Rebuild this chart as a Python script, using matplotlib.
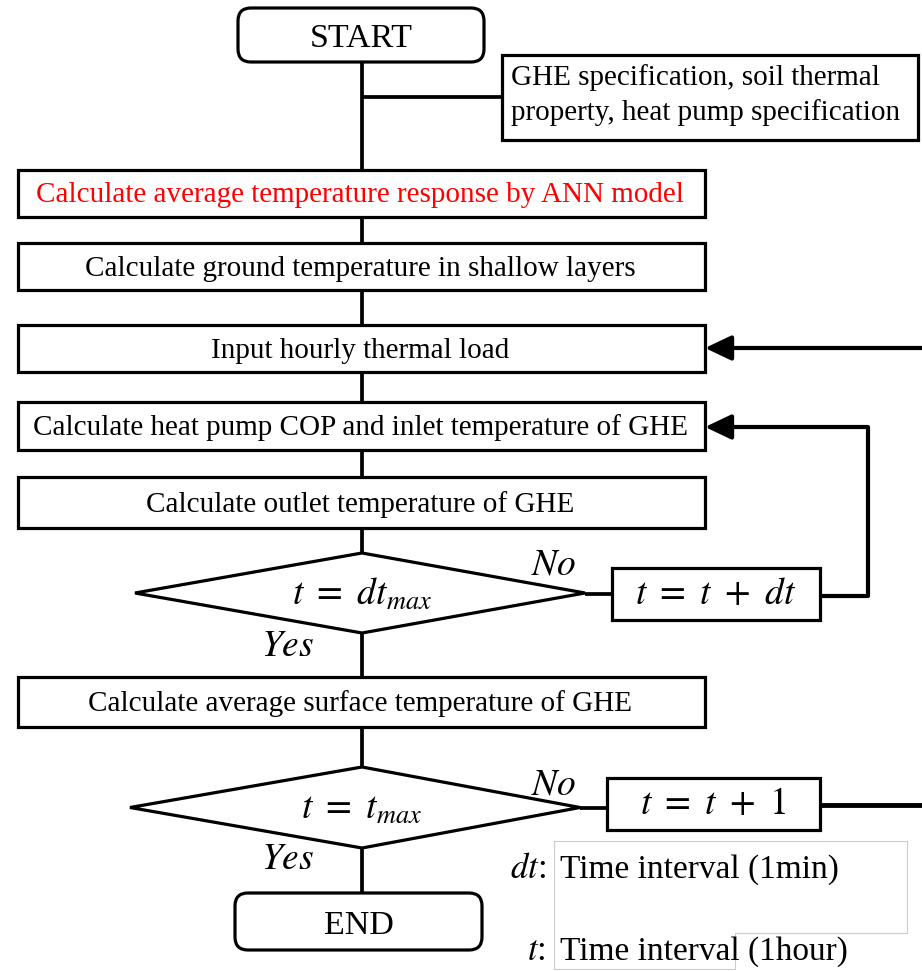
import matplotlib
matplotlib.use("Agg")
from matplotlib import pyplot as plt
from matplotlib.patches import FancyBboxPatch, Rectangle, Polygon

plt.rcParams["font.family"] = ["Liberation Serif", "DejaVu Serif"]
plt.rcParams["mathtext.fontset"] = "stix"

# flowchart text
start_label = "START"
end_label = "END"
input_lines = ["GHE specification, soil thermal", "property, heat pump specification"]
steps = [
    "Calculate average temperature response by ANN model",
    "Calculate ground temperature in shallow layers",
    "Input hourly thermal load",
    "Calculate heat pump COP and inlet temperature of GHE",
    "Calculate outlet temperature of GHE",
    "Calculate average surface temperature of GHE",
]
step_colors = ["red", "black", "black", "black", "black", "black"]
decisions = [r"$t\ =\ dt_{max}$", r"$t\ =\ t_{max}$"]
updates = [r"$t\ =\ t\ +\ dt$", r"$t\ =\ t\ +\ 1$"]
legend_syms = [r"$dt$:", r"$t$:"]
legend_text = ["Time interval (1min)", "Time interval (1hour)"]

# layout (pixels)
step_y = [(170, 217), (243, 290), (325, 372), (402, 450), (477, 528), (677, 727)]
cx = 362
lw = 2.3

fig = plt.figure(figsize=(9.22, 9.71), dpi=100)
ax = fig.add_axes([0, 0, 1, 1])
ax.set_xlim(0, 922)
ax.set_ylim(971, 0)
ax.axis("off")


def line(xs, ys, w=lw + 0.4):
    ax.plot(xs, ys, color="black", lw=w, solid_capstyle="butt", zorder=1)


def arrow(x0, x1, y):
    ax.annotate("", xy=(x1, y), xytext=(x0, y),
                arrowprops=dict(arrowstyle="-|>,head_length=0.8,head_width=0.38",
                                lw=3, color="black", shrinkA=0, shrinkB=0,
                                mutation_scale=20))


# start / end
for lab, (x0, y0, x1, y1) in [(start_label, (238, 8, 484, 62)), (end_label, (235, 893, 482, 950))]:
    ax.add_patch(FancyBboxPatch((x0, y0), x1 - x0, y1 - y0,
                                boxstyle="round,pad=0,rounding_size=13",
                                fc="white", ec="black", lw=lw, zorder=2))
    ax.text((x0 + x1) / 2, (y0 + y1) / 2 + 4, lab, ha="center", va="center", fontsize=24.5, zorder=3)

# input box
line([cx, cx], [62, 170])
line([cx, 502], [97, 97])
ax.add_patch(Rectangle((502, 55), 416, 85, fc="white", ec="black", lw=lw, zorder=2))
ax.text(511, 78, input_lines[0], ha="left", va="center", fontsize=21, zorder=3)
ax.text(511, 113, input_lines[1], ha="left", va="center", fontsize=21, zorder=3)

# step boxes
for i, (lab, col, (y0, y1)) in enumerate(zip(steps, step_colors, step_y)):
    ax.add_patch(Rectangle((18, y0), 687, y1 - y0, fc="white", ec="black", lw=lw, zorder=2))
    ax.text(cx - 2, (y0 + y1) / 2 + 2, lab, ha="center", va="center",
            fontsize=21, color=col, zorder=3)

for a, b in [(217, 243), (290, 325), (372, 402), (450, 477), (528, 553), (633, 677), (727, 767), (848, 893)]:
    line([cx, cx], [a, b])

# decisions
dec_geo = [(135, 585, 553, 633), (130, 580, 767, 848)]
upd_geo = [(612, 820, 568, 620), (607, 820, 778, 830)]
for k in range(2):
    xl, xr, yt, yb = dec_geo[k]
    ym = (yt + yb) / 2
    ax.add_patch(Polygon([(xl, ym), (cx, yt), (xr, ym), (cx, yb)], closed=True,
                         fc="white", ec="black", lw=lw, zorder=2))
    ax.text(cx, ym + 2, decisions[k], ha="center", va="center", fontsize=27, zorder=3)
    ux0, ux1, uy0, uy1 = upd_geo[k]
    uym = (uy0 + uy1) / 2
    line([xr, ux0], [ym + 1, ym + 1])
    ax.add_patch(Rectangle((ux0, uy0), ux1 - ux0, uy1 - uy0, fc="white", ec="black", lw=lw, zorder=2))
    ax.text((ux0 + ux1) / 2, uym + 1, updates[k], ha="center", va="center", fontsize=27, zorder=3)
    ax.text(554, yt + 12 + 6 * k, "$No$", ha="center", va="center", fontsize=27, zorder=3)
    ax.text(288, yb + 12 + 2 * (1 - k), "$Yes$", ha="center", va="center", fontsize=27, zorder=3)

# loops
line([820, 868, 868], [596, 596, 427], w=3)
arrow(868, 705, 427)
line([820, 922], [805, 805], w=3.5)
arrow(922, 705, 348)

# legend
ax.plot([554, 907, 907, 735, 735, 554, 554], [841, 841, 933, 933, 969, 969, 841],
        color="#cccccc", lw=0.8, zorder=1)
ax.text(546, 870, legend_syms[0], ha="right", va="center", fontsize=25)
ax.text(560, 870, legend_text[0], ha="left", va="center", fontsize=24)
ax.text(546, 952, legend_syms[1], ha="right", va="center", fontsize=25)
ax.text(560, 952, legend_text[1], ha="left", va="center", fontsize=24)

fig.savefig("out.png", dpi=100, facecolor="white")
